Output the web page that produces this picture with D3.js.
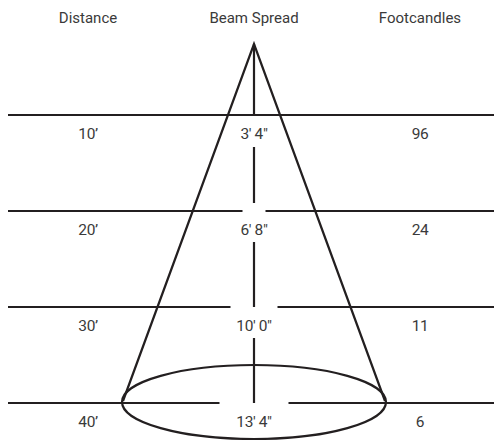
<!DOCTYPE html>
<html><head><meta charset="utf-8">
<script src="https://cdn.jsdelivr.net/npm/d3@7"></script>
<style>body{margin:0;background:#fff}svg{display:block}</style>
</head><body>
<svg id="c" width="495" height="440"></svg>
<script>
const headers = ["Distance", "Beam Spread", "Footcandles"];
const distances = [10, 20, 30, 40];
const distanceLabels = ["10’", "20’", "30’", "40’"];
const beamSpreadFt = [3.333, 6.667, 10, 13.333];
const beamLabels = ["3' 4\"", "6' 8\"", "10' 0\"", "13' 4\""];
const footcandles = [96, 24, 11, 6];

const W = 495, H = 440;
const svg = d3.select("#c");
const ink = "#231f20", txt = "#3a3a3a";
const font = "Roboto, 'Open Sans', sans-serif";

const xCol = d3.scalePoint().domain(headers).range([88, 420]);
const y = d3.scaleLinear().domain([10, 40]).range([115, 403]);
const maxSpread = d3.max(beamSpreadFt);
const xb = d3.scaleLinear().domain([-maxSpread / 2, maxSpread / 2]).range([122, 386]);
const apexY = 44;
const cx = xb(0);

// headers
svg.selectAll("text.h").data(headers).join("text")
  .attr("x", d => xCol(d)).attr("y", 23)
  .attr("text-anchor", "middle").attr("font-family", font).attr("font-size", 15)
  .attr("fill", txt).text(d => d);

// horizontal lines with gaps in the centre
const gapHalf = [0, 11.5, 23.5, 34.5];
distances.forEach((d, i) => {
  const yy = y(d);
  const g = gapHalf[i];
  const segs = g === 0 ? [[8, 494]] : [[8, cx - g], [cx + g, 494]];
  segs.forEach(s => svg.append("line").attr("x1", s[0]).attr("x2", s[1])
    .attr("y1", yy).attr("y2", yy).attr("stroke", ink).attr("stroke-width", 2.2));
});

// vertical centre line segments
const vSegs = [[apexY, y(10)], [y(10) + 32, y(20) - 8], [y(20) + 31, y(30)], [y(30) + 31, y(40)]];
vSegs.forEach(s => svg.append("line").attr("x1", cx).attr("x2", cx)
  .attr("y1", s[0]).attr("y2", s[1]).attr("stroke", ink).attr("stroke-width", 2.2));

// cone
const yEnd = y(40) - 2;
svg.append("path")
  .attr("d", `M${xb(-maxSpread / 2) + 1},${yEnd} L${cx},${apexY} L${xb(maxSpread / 2) - 1},${yEnd}`)
  .attr("fill", "none").attr("stroke", ink).attr("stroke-width", 2.2).attr("stroke-linejoin", "miter");

// ellipse
svg.append("ellipse").attr("cx", cx).attr("cy", y(40) - 1)
  .attr("rx", xb(maxSpread / 2) - cx).attr("ry", 37)
  .attr("fill", "none").attr("stroke", ink).attr("stroke-width", 2.2);

// row labels
const rows = distances.map((d, i) => ({d, dl: distanceLabels[i], bl: beamLabels[i], fc: footcandles[i]}));
const lab = (col, f) => svg.selectAll(null).data(rows).join("text")
  .attr("x", xCol(col)).attr("y", r => y(r.d) + 24)
  .attr("text-anchor", "middle").attr("font-family", font).attr("font-size", 15.5)
  .attr("letter-spacing", -0.4).attr("fill", txt).text(f);
lab("Distance", r => r.dl);
lab("Beam Spread", r => r.bl);
lab("Footcandles", r => r.fc);
</script>
</body></html>
